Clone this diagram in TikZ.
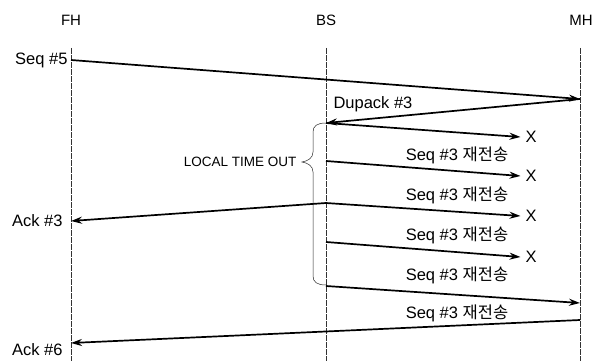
\documentclass[tikz,border=0pt]{standalone}
\usepackage{fontspec}
\setmainfont{Liberation Sans}
\newfontfamily\krfont{Noto Sans CJK KR}
\usetikzlibrary{positioning, arrows.meta, calc}
\newcommand{\retx}{Seq \#3 {\krfont 재전송}}

\begin{document}
\begin{tikzpicture}[
  x=1pt, y=-1pt,
  font=\fontsize{16.5}{18}\selectfont,
  >={Stealth[length=11pt, width=7pt]},
  life/.style={draw=black!80, line width=0.5pt, dash pattern=on 6pt off 1pt},
  msg/.style={->, line width=1.7pt},
  brace/.style={draw=black!85, line width=0.5pt},
  lost/.style={inner sep=0pt, outer sep=5pt},
  lbl/.style={inner sep=1pt},
  head/.style={font=\fontsize{15}{17}\selectfont},
]
\useasboundingbox (0,0) rectangle (599,361);

% ---- Entities and life lines ---------------------------------------------
\node[head] (fh) at (71,20) {FH};
\node[head] (bs) at (326,20) {BS};
\node[head] (mh) at (581,20) {MH};
\foreach \e/\x in {fh/71, bs/326, mh/580} {
  \coordinate (\e top) at (\x,48);
  \coordinate (\e bot) at (\x,361);
  \draw[life] (\e top) -- (\e bot);
}

% ---- Original segment and duplicate ack ----------------------------------
\coordinate (fh5) at (71,60);
\coordinate (mh5) at (580,99);
\node[left=0pt of fh5] (s5) {Seq \#5};
\draw[msg] (fh5) -- (mh5);
\node[anchor=west] (dup) at (330,104) {Dupack \#3};

% ---- Local retransmissions that get lost ---------------------------------
\foreach \k/\ya/\yb in {1/123/137, 2/161/176, 3/203/216, 4/242/257} {
  \coordinate (bs\k) at (326,\ya);
  \node[lost] (x\k) at (531,\yb) {X};
  \draw[msg] (bs\k) -- (x\k.west);
}
\draw[msg] (mh5) -- (bs1);

\foreach \y [count=\j] in {155,195,235,275,313} {
  \node[lbl] (rt\j) at (457,\y) {\retx};
}

% ---- Acks towards FH and the last retransmission ------------------------
\coordinate (fh3) at (71,221);
\draw[msg] (bs3) -- (fh3);
\node[left=5pt of fh3] (a3) {Ack \#3};

\coordinate (bs5) at (326,286);
\coordinate (mh6) at (580,303);
\draw[msg] (bs5) -- (mh6);

\coordinate (mh7) at (580,320);
\coordinate (fh6) at (71,343);
\draw[msg] (mh7) -- (fh6);
\node[left=5pt of fh6, yshift=-7pt] (a6) {Ack \#6};

% ---- Local time out brace -------------------------------------------------
\coordinate (tmo) at (302,162);
\draw[brace] (bs1) .. controls (317,123) and (313,126) .. (313,132)
  -- (313,152) .. controls (313,158) and (308,161) .. (tmo)
  .. controls (308,163) and (313,166) .. (313,172)
  -- (313,276) .. controls (313,282) and (317,285) .. (326,285);
\node[left=2pt of tmo, font=\fontsize{13.5}{15}\selectfont] (lto) {LOCAL TIME OUT};

\end{tikzpicture}
\end{document}
